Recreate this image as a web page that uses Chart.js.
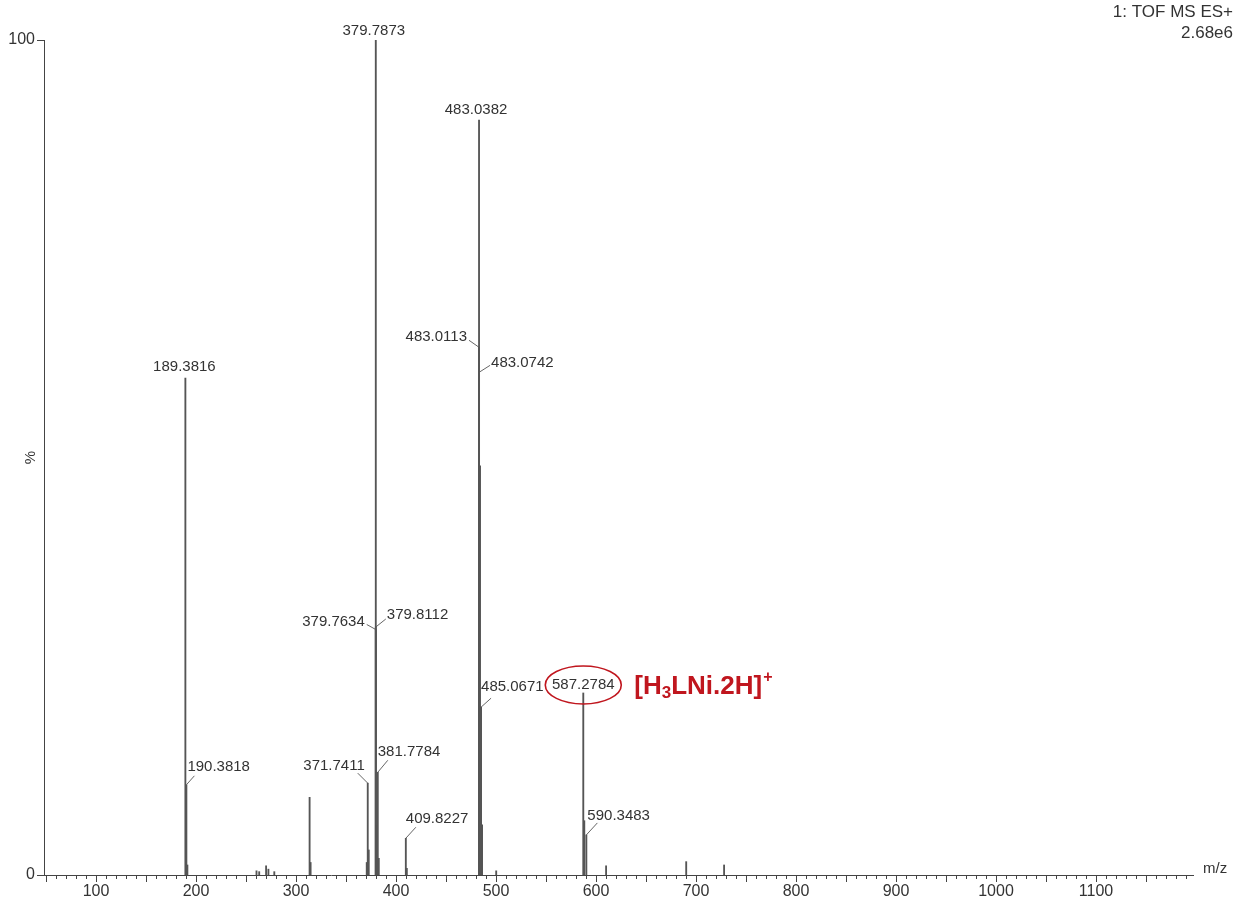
<!DOCTYPE html>
<html>
<head>
<meta charset="utf-8">
<script src="https://cdn.jsdelivr.net/npm/chart.js@4.4.1/dist/chart.umd.min.js"></script>
<style>
  html, body { margin: 0; padding: 0; background: #ffffff; }
  #wrap { width: 1236px; height: 904px; position: relative; }
</style>
</head>
<body>
<div id="wrap"><canvas id="spectrum" width="1236" height="904"></canvas></div>
<script>
// Centroided peaks: m/z and relative intensity (% of base peak)
const peakMz = [
  189.3816, 190.3818, 191.38, 260.5, 263.2, 270.1, 272.4, 278.3,
  313.6, 314.6, 370.74, 371.7411, 372.74,
  379.7634, 379.7873, 379.8112, 380.79, 381.7784, 382.78,
  409.8227, 410.82,
  483.0113, 483.0382, 483.0742, 484.04, 485.0671, 486.07, 500.2,
  587.2784, 588.28, 590.3483, 610.1, 690.2, 728.1
];
const peakIntensity = [
  59.5, 10.8, 1.2, 0.5, 0.4, 1.1, 0.7, 0.4,
  9.3, 1.5, 1.5, 11.0, 3.0,
  29.4, 100, 29.7, 6.0, 12.3, 2.0,
  4.4, 0.8,
  63.2, 90.4, 60.2, 49.0, 20.1, 6.0, 0.5,
  21.8, 6.5, 4.8, 1.1, 1.6, 1.2
];

// Peaks that carry an m/z annotation
const labeledMz = [
  189.3816, 190.3818, 371.7411, 379.7634, 379.7873, 379.8112, 381.7784,
  409.8227, 483.0113, 483.0382, 483.0742, 485.0671, 587.2784, 590.3483
];
const labeledText = [
  '189.3816', '190.3818', '371.7411', '379.7634', '379.7873', '379.8112', '381.7784',
  '409.8227', '483.0113', '483.0382', '483.0742', '485.0671', '587.2784', '590.3483'
];

const xTickValues = [100, 200, 300, 400, 500, 600, 700, 800, 900, 1000, 1100];
const yTickValues = [0, 100];

const headerLines = ['1: TOF MS ES+', '2.68e6'];
const xAxisTitle = 'm/z';
const yAxisTitle = '%';
const highlightedMz = 587.2784;
const assignment = { pre: '[H', sub: '3', mid: 'LNi.2H]', sup: '+' };

// Label placement: text alignment, text offset and leader offset from the peak point (px)
const labelPlacement = {
  '189.3816': { align: 'center', tx: -1,  ty: -11, lx: 0,   ly: 0 },
  '190.3818': { align: 'left',   tx: 1,   ty: -18, lx: 8,   ly: -9 },
  '371.7411': { align: 'right',  tx: -3,  ty: -17, lx: -10, ly: -10 },
  '379.7634': { align: 'right',  tx: -11, ty: -8,  lx: -9,  ly: -5 },
  '379.7873': { align: 'center', tx: -2,  ty: -9,  lx: 0,   ly: 0 },
  '379.8112': { align: 'left',   tx: 11,  ty: -12, lx: 10,  ly: -8 },
  '381.7784': { align: 'left',   tx: 0,   ty: -20, lx: 10,  ly: -12 },
  '409.8227': { align: 'left',   tx: 0,   ty: -19, lx: 10,  ly: -11 },
  '483.0113': { align: 'right',  tx: -12, ty: -10, lx: -10, ly: -7 },
  '483.0382': { align: 'center', tx: -3,  ty: -10, lx: 0,   ly: 0 },
  '483.0742': { align: 'left',   tx: 12,  ty: -9,  lx: 11,  ly: -7 },
  '485.0671': { align: 'left',   tx: 0,   ty: -20, lx: 10,  ly: -9 },
  '587.2784': { align: 'center', tx: 0,   ty: -8,  lx: 0,   ly: 0 },
  '590.3483': { align: 'left',   tx: 1,   ty: -19, lx: 11,  ly: -12 }
};

const FONT = '"Liberation Sans", Arial, Helvetica, sans-serif';
const INK = '#333333';
const AXIS = '#444444';
const RED = '#c0161e';

const spectrumDecor = {
  id: 'spectrumDecor',
  afterDatasetsDraw(chart) {
    const ctx = chart.ctx;
    const xs = chart.scales.x;
    const ys = chart.scales.y;
    const area = chart.chartArea;
    ctx.save();

    // x-axis minor/major tick marks (every 10, longer every 50)
    ctx.strokeStyle = AXIS;
    ctx.lineWidth = 1;
    ctx.beginPath();
    for (let v = 50; v <= xs.max; v += 10) {
      const px = Math.round(xs.getPixelForValue(v)) + 0.5;
      const len = (v % 50 === 0) ? 7 : 4;
      ctx.moveTo(px, area.bottom);
      ctx.lineTo(px, area.bottom + len);
    }
    // y-axis tick marks
    yTickValues.forEach(v => {
      const py = Math.round(ys.getPixelForValue(v)) + 0.5;
      ctx.moveTo(area.left - 7, py);
      ctx.lineTo(area.left, py);
    });
    ctx.stroke();

    // peak annotations with leader lines
    ctx.font = '15px ' + FONT;
    ctx.fillStyle = INK;
    ctx.textBaseline = 'middle';
    labeledMz.forEach((mz, i) => {
      const text = labeledText[i];
      const p = labelPlacement[text];
      const idx = peakMz.indexOf(mz);
      const px = xs.getPixelForValue(mz);
      const py = ys.getPixelForValue(peakIntensity[idx]);
      if (p.lx !== 0 || p.ly !== 0) {
        ctx.strokeStyle = '#555555';
        ctx.lineWidth = 0.9;
        ctx.beginPath();
        ctx.moveTo(px, py);
        ctx.lineTo(px + p.lx, py + p.ly);
        ctx.stroke();
      }
      ctx.textAlign = p.align;
      ctx.fillText(text, px + p.tx, py + p.ty);
    });

    // highlighted ion: ellipse around its label plus the assignment
    {
      const idx = peakMz.indexOf(highlightedMz);
      const p = labelPlacement[labeledText[labeledMz.indexOf(highlightedMz)]];
      const cx = xs.getPixelForValue(highlightedMz) + p.tx;
      const cy = ys.getPixelForValue(peakIntensity[idx]) + p.ty;
      ctx.strokeStyle = RED;
      ctx.lineWidth = 1.6;
      ctx.beginPath();
      ctx.ellipse(cx, cy, 38, 19, 0, 0, Math.PI * 2);
      ctx.stroke();

      let ax = cx + 51;
      const base = cy + 9;
      ctx.fillStyle = RED;
      ctx.textAlign = 'left';
      ctx.textBaseline = 'alphabetic';
      ctx.font = 'bold 26px ' + FONT;
      ctx.fillText(assignment.pre, ax, base);
      ax += ctx.measureText(assignment.pre).width;
      ctx.font = 'bold 17px ' + FONT;
      ctx.fillText(assignment.sub, ax, base + 4);
      ax += ctx.measureText(assignment.sub).width;
      ctx.font = 'bold 26px ' + FONT;
      ctx.fillText(assignment.mid, ax, base);
      ax += ctx.measureText(assignment.mid).width + 1;
      ctx.font = 'bold 16px ' + FONT;
      ctx.fillText(assignment.sup, ax, base - 12);
    }

    // header, axis titles
    ctx.fillStyle = INK;
    ctx.font = '17px ' + FONT;
    ctx.textAlign = 'right';
    ctx.textBaseline = 'middle';
    ctx.fillText(headerLines[0], 1233, 12);
    ctx.fillText(headerLines[1], 1233, 33);

    ctx.font = '15px ' + FONT;
    ctx.textAlign = 'left';
    ctx.fillText(xAxisTitle, area.right + 10, area.bottom - 6);

    ctx.save();
    ctx.translate(31, (area.top + area.bottom) / 2);
    ctx.rotate(-Math.PI / 2);
    ctx.textAlign = 'center';
    ctx.fillText(yAxisTitle, 0, 0);
    ctx.restore();

    ctx.restore();
  }
};

new Chart(document.getElementById('spectrum'), {
  type: 'bar',
  data: {
    datasets: [{
      data: peakMz.map((mz, i) => ({ x: mz, y: peakIntensity[i] })),
      backgroundColor: '#555555',
      borderWidth: 0,
      barThickness: 1.2
    }]
  },
  options: {
    responsive: false,
    animation: false,
    events: [],
    layout: { padding: { top: 40, right: 43, left: 0, bottom: 0 } },
    plugins: { legend: { display: false }, tooltip: { enabled: false } },
    scales: {
      x: {
        type: 'linear',
        offset: false,
        min: 48,
        max: 1197,
        grid: { display: false, drawTicks: false, offset: false },
        border: { display: true, color: AXIS, width: 1 },
        afterBuildTicks: s => { s.ticks = xTickValues.map(v => ({ value: v })); },
        afterFit: s => { s.height = 29; },
        ticks: {
          padding: 7,
          maxRotation: 0,
          autoSkip: false,
          color: INK,
          font: { family: FONT, size: 16 },
          callback: v => String(v)
        }
      },
      y: {
        min: 0,
        max: 100,
        grid: { display: false, drawTicks: false },
        border: { display: true, color: AXIS, width: 1 },
        afterBuildTicks: s => { s.ticks = yTickValues.map(v => ({ value: v })); },
        afterFit: s => { s.width = 44; },
        ticks: {
          padding: 9,
          color: INK,
          font: { family: FONT, size: 16 }
        }
      }
    }
  },
  plugins: [spectrumDecor]
});
</script>
</body>
</html>
